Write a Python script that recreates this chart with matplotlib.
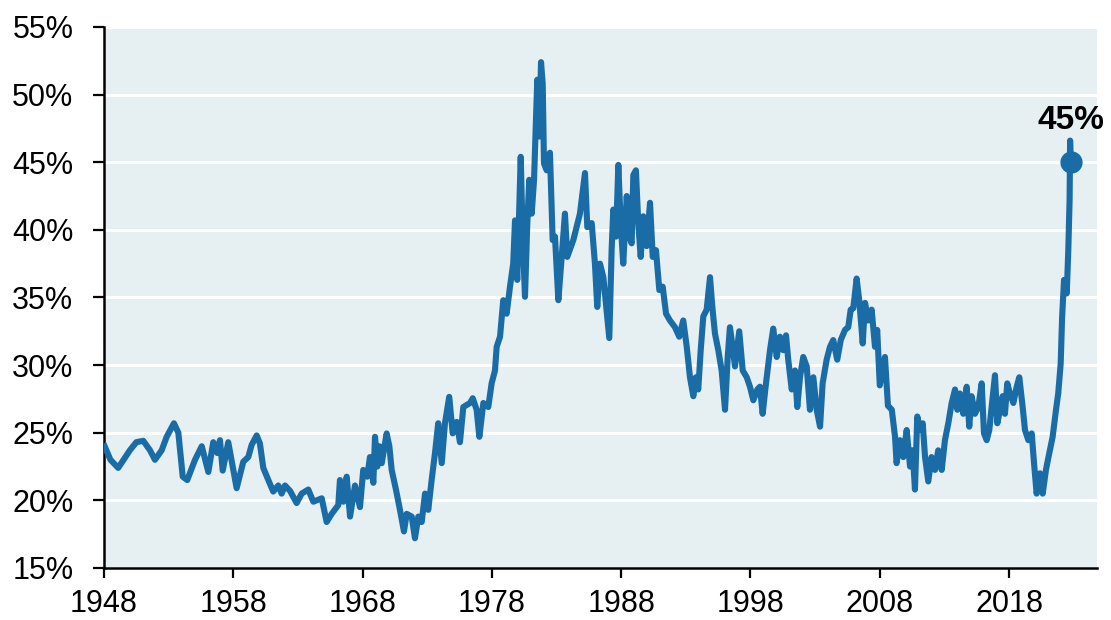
import matplotlib
matplotlib.use("Agg")
import matplotlib.pyplot as plt

plt.rcParams['font.family'] = ['Liberation Sans', 'DejaVu Sans']

years = [
    1948.05, 1948.5, 1949.1, 1950.0, 1950.5, 1951.04, 1951.56, 1951.94, 1952.46, 1952.85,
    1953.41, 1953.75, 1954.09, 1954.44, 1955.04,
    1955.56, 1956.07, 1956.45, 1956.76, 1956.97, 1957.18, 1957.61, 1958.26, 1958.77, 1959.16,
    1959.42, 1959.81, 1960.06, 1960.32, 1960.71, 1961.09, 1961.48, 1961.74, 1962.0, 1962.39,
    1962.9, 1963.29, 1963.8, 1964.19, 1964.84, 1965.22, 1965.61, 1966.12, 1966.25, 1966.51,
    1966.77, 1967.03, 1967.41, 1967.8, 1968.05, 1968.36, 1968.57, 1968.83, 1968.96, 1969.14,
    1969.29, 1969.48, 1969.86, 1970.07, 1970.25, 1970.58, 1970.89, 1971.2, 1971.41, 1971.8,
    1972.05, 1972.31, 1972.57, 1972.83, 1973.08, 1973.34, 1973.6, 1973.85, 1974.12, 1974.37,
    1974.7, 1974.97, 1975.28, 1975.53, 1975.79, 1976.31, 1976.52, 1976.82, 1977.03, 1977.34,
    1977.72, 1977.98, 1978.24, 1978.37, 1978.63, 1978.88, 1979.14, 1979.4, 1979.65, 1979.79,
    1979.96, 1980.23, 1980.38, 1980.56, 1980.74, 1980.89, 1981.08, 1981.26, 1981.41, 1981.51,
    1981.67, 1981.8, 1981.93, 1982.03, 1982.24, 1982.49, 1982.7, 1982.88, 1983.14, 1983.4,
    1983.65, 1983.83, 1984.3, 1984.81, 1985.2, 1985.38, 1985.72, 1985.97, 1986.15, 1986.36,
    1986.62, 1986.88, 1987.08, 1987.26, 1987.39, 1987.6, 1987.78, 1987.96, 1988.16, 1988.43,
    1988.63, 1988.81, 1988.94, 1989.14, 1989.32, 1989.51, 1989.71, 1989.97, 1990.23, 1990.44,
    1990.69, 1990.95, 1991.21, 1991.47, 1991.77, 1992.16, 1992.49, 1992.8, 1993.07, 1993.32,
    1993.58, 1993.78, 1993.96, 1994.15, 1994.35, 1994.61, 1994.87, 1995.05, 1995.25, 1995.51,
    1995.77, 1996.03, 1996.24, 1996.41, 1996.62, 1996.8, 1997.13, 1997.4, 1997.71, 1997.96,
    1998.22, 1998.53, 1998.73, 1998.94, 1999.2, 1999.51, 1999.76, 2000.03, 2000.28, 2000.54,
    2000.75, 2000.92, 2001.19, 2001.44, 2001.62, 2001.83, 2002.08, 2002.35, 2002.6, 2002.86,
    2003.12, 2003.38, 2003.58, 2003.89, 2004.15, 2004.4, 2004.71, 2004.98, 2005.31, 2005.56,
    2005.75, 2005.95, 2006.21, 2006.41, 2006.68, 2006.86, 2007.11, 2007.37, 2007.63, 2007.8,
    2008.0, 2008.4, 2008.63, 2008.93, 2009.18, 2009.3, 2009.56, 2009.82, 2010.08, 2010.34,
    2010.54, 2010.72, 2010.9, 2011.1, 2011.32, 2011.5, 2011.75, 2012.0, 2012.27, 2012.52,
    2012.79, 2013.04, 2013.3, 2013.56, 2013.82, 2014.0, 2014.2, 2014.46, 2014.72, 2014.92,
    2015.1, 2015.36, 2015.62, 2015.88, 2016.06, 2016.27, 2016.47, 2016.65, 2016.91, 2017.09,
    2017.3, 2017.5, 2017.68, 2017.86, 2018.07, 2018.33, 2018.59, 2018.79, 2019.05, 2019.23,
    2019.49, 2019.75, 2019.93, 2020.13, 2020.39, 2020.6, 2020.85, 2021.11, 2021.37, 2021.63,
    2021.8, 2021.99, 2022.1, 2022.25, 2022.46, 2022.58, 2022.68, 2022.72, 2022.77,
]
values = [
    24.0, 23.0, 22.4, 23.7, 24.3, 24.4, 23.7, 23.0, 23.7, 24.7,
    25.7, 25.0, 21.75, 21.5, 23.0,
    24.0, 22.1, 24.3, 23.5, 24.45, 22.2, 24.3, 20.9, 22.85, 23.2,
    24.1, 24.8, 24.2, 22.4, 21.5, 20.65, 21.1, 20.5, 21.1, 20.7,
    19.8, 20.5, 20.8, 19.9, 20.15, 18.4, 19.0, 19.65, 21.5, 19.9,
    21.75, 18.8, 21.1, 19.5, 22.25, 21.75, 23.2, 21.3, 24.7, 22.5,
    24.0, 22.75, 24.95, 24.0, 22.25, 20.8, 19.3, 17.7, 19.0, 18.8,
    17.2, 18.8, 18.4, 20.5, 19.3, 21.5, 23.5, 25.7, 22.75, 25.7,
    27.65, 24.95, 25.8, 24.3, 26.9, 27.2, 27.55, 26.7, 24.7, 27.2,
    26.9, 28.65, 29.6, 31.35, 32.1, 34.8, 33.8, 35.8, 37.5, 40.7,
    36.3, 45.4, 39.5, 35.05, 40.5, 43.7, 41.2, 43.7, 48.1, 51.1,
    46.9, 52.4, 50.8, 44.9, 44.4, 45.7, 39.25, 39.5, 34.8, 38.0,
    41.2, 38.0, 39.25, 41.2, 44.2, 40.2, 40.5, 37.5, 34.3, 37.5,
    36.5, 34.0, 32.0, 38.5, 41.5, 39.5, 44.8, 40.5, 37.5, 42.5,
    39.5, 39.0, 44.05, 44.4, 40.5, 38.0, 41.0, 38.8, 42.0, 38.0,
    38.5, 35.55, 35.8, 33.8, 33.3, 32.8, 32.1, 33.3, 31.35, 29.1,
    27.7, 29.1, 28.2, 31.1, 33.6, 34.1, 36.5, 34.3, 32.35, 31.1,
    29.6, 26.7, 30.6, 32.8, 31.35, 29.9, 32.5, 29.6, 29.1, 28.4,
    27.4, 28.2, 28.4, 26.4, 28.65, 31.1, 32.7, 30.6, 32.1, 31.1,
    32.2, 30.4, 28.2, 29.6, 26.9, 29.1, 30.6, 29.9, 26.7, 29.1,
    26.7, 25.45, 28.65, 30.4, 31.35, 31.85, 30.4, 31.85, 32.6, 32.8,
    34.1, 34.2, 36.4, 34.8, 31.6, 34.6, 33.3, 34.1, 31.35, 32.6,
    28.5, 30.6, 27.0, 26.7, 24.7, 22.75, 24.45, 23.2, 25.2, 22.5,
    23.7, 20.8, 26.2, 25.2, 25.7, 23.2, 21.4, 23.2, 22.25, 23.7,
    22.25, 24.45, 25.7, 27.2, 28.2, 26.7, 27.9, 26.4, 28.4, 25.45,
    27.7, 26.4, 26.9, 28.65, 24.95, 24.45, 25.2, 26.9, 29.25, 25.7,
    26.7, 27.7, 26.4, 28.65, 27.9, 27.2, 28.4, 29.1, 26.9, 25.2,
    24.45, 24.95, 22.75, 20.5, 22.0, 20.5, 22.25, 23.5, 24.7, 26.7,
    27.9, 30.1, 33.5, 36.3, 35.3, 38.5, 42.2, 46.6, 45.0,
]

x_ticks = [1948, 1958, 1968, 1978, 1988, 1998, 2008, 2018]
y_ticks = [15, 20, 25, 30, 35, 40, 45, 50, 55]
y_labels = ['15%', '20%', '25%', '30%', '35%', '40%', '45%', '50%', '55%']
last_label = '45%'

line_color = '#1a6ca6'

fig = plt.figure(figsize=(11.11, 6.2), dpi=100)
ax = fig.add_axes([0.0936, 0.0839, 0.8938, 0.8726])
ax.set_facecolor('#e6eff2')

ax.plot(years, values, color=line_color, lw=4.4, solid_joinstyle='round', zorder=3)
ax.plot(years[-1], values[-1], 'o', color=line_color, ms=15, zorder=4)
ax.annotate(last_label, xy=(years[-1], values[-1]), xytext=(0, 24),
            textcoords='offset points', ha='center', va='baseline',
            fontsize=24, fontweight='bold', annotation_clip=False)

ax.set_xlim(1948, 2024.8)
ax.set_ylim(15, 55)
ax.set_xticks(x_ticks)
ax.set_xticklabels([str(t) for t in x_ticks])
ax.set_yticks(y_ticks)
ax.set_yticklabels(y_labels)

ax.grid(axis='y', color='white', lw=2.2)
ax.grid(axis='x', visible=False)
ax.set_axisbelow(True)

for side in ['top', 'right']:
    ax.spines[side].set_visible(False)
for side in ['left', 'bottom']:
    ax.spines[side].set_linewidth(1.8)
    ax.spines[side].set_color('black')

ax.tick_params(axis='y', direction='out', length=8, width=1.6, pad=14, labelsize=22)
ax.tick_params(axis='x', direction='out', length=7, width=1.6, pad=8, labelsize=22)

fig.savefig('out.png', dpi=100)
